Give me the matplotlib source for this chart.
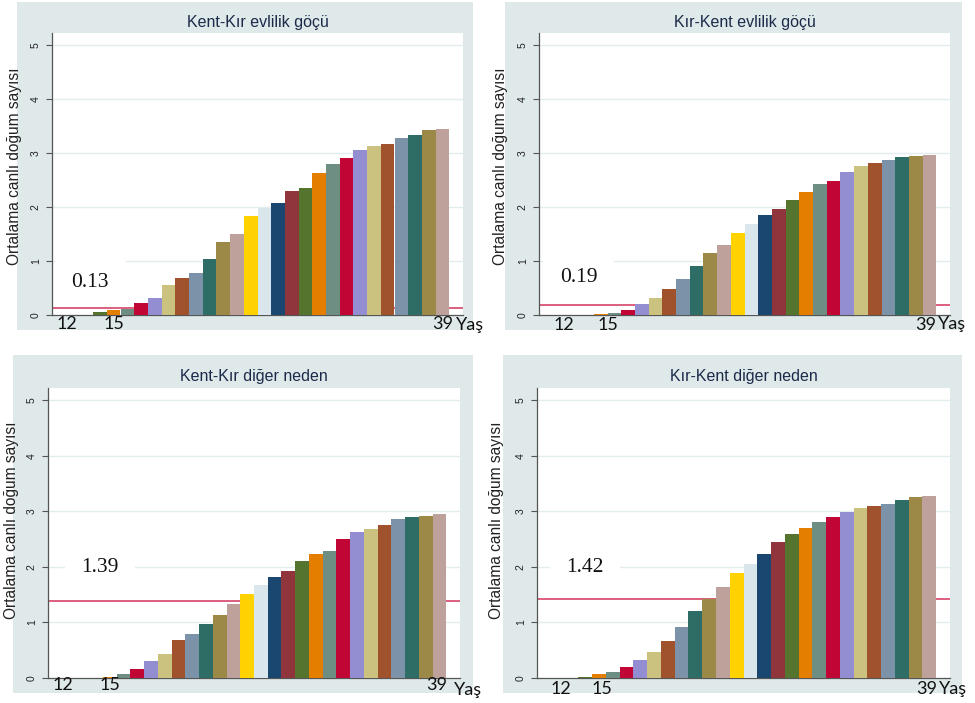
import matplotlib
matplotlib.use("Agg")
import matplotlib.pyplot as plt
from matplotlib.patches import Rectangle
from matplotlib.transforms import blended_transform_factory

# ---------------- data ----------------
ages = list(range(12, 40))
titles = ["Kent-Kır evlilik göçü", "Kır-Kent evlilik göçü",
          "Kent-Kır diğer neden", "Kır-Kent diğer neden"]
kent_kir_evlilik = [0, 0, 0.05, 0.10, 0.12, 0.22, 0.32, 0.56, 0.69, 0.77,
                    1.04, 1.36, 1.50, 1.83, 1.98, 2.07, 2.29, 2.36, 2.62, 2.79,
                    2.90, 3.05, 3.13, 3.16, 3.28, 3.33, 3.42, 3.44]
kir_kent_evlilik = [0, 0, 0, 0.02, 0.04, 0.10, 0.20, 0.32, 0.49, 0.66,
                    0.90, 1.15, 1.30, 1.51, 1.69, 1.85, 1.96, 2.13, 2.27, 2.42,
                    2.48, 2.65, 2.76, 2.81, 2.86, 2.93, 2.95, 2.96]
kent_kir_diger = [0, 0, 0, 0.01, 0.08, 0.17, 0.31, 0.44, 0.68, 0.79,
                  0.98, 1.13, 1.34, 1.51, 1.67, 1.81, 1.93, 2.11, 2.23, 2.29,
                  2.51, 2.62, 2.68, 2.76, 2.86, 2.90, 2.92, 2.96]
kir_kent_diger = [0, 0, 0.01, 0.07, 0.10, 0.20, 0.33, 0.46, 0.67, 0.92,
                  1.21, 1.42, 1.64, 1.89, 2.06, 2.24, 2.44, 2.60, 2.70, 2.80,
                  2.90, 2.98, 3.06, 3.10, 3.14, 3.21, 3.26, 3.28]
series = [kent_kir_evlilik, kir_kent_evlilik, kent_kir_diger, kir_kent_diger]
means = [0.13, 0.19, 1.39, 1.42]
mean_labels = ["0.13", "0.19", "1.39", "1.42"]
yticks = [0, 1, 2, 3, 4, 5]
age_labels = [12, 15, 39]
ylabel = "Ortalama canlı doğum sayısı"
xunit = "Yaş"

# Stata s2color palette
palette = ["#1a476f", "#90353b", "#55752f", "#e37e00", "#6e8e84",
           "#c10534", "#938dd2", "#cac27e", "#a0522d", "#7b92a8",
           "#2d6d66", "#9c8847", "#bfa19c", "#ffd200", "#d9e6eb"]

# ---------------- layout (pixels) ----------------
W, H = 975, 703
bg_boxes = [(17, 2, 473, 330), (505, 2, 962, 330),
            (13, 355, 473, 693), (503, 355, 962, 693)]
plot_boxes = [(52, 33, 463, 315), (539, 33, 950, 315),
              (48, 388, 460, 678), (537, 388, 950, 678)]
ylabel_pos = [(15, 166), (500, 166), (12, 520), (497, 520)]
ann_pos = [(13.3, 0.61), (13.4, 0.70), (14.3, 1.98), (14.0, 1.98)]
label_x_shift = [[-0.4, 0.0, 0.0], [0.3, 0.5, -0.3], [-0.4, 0.0, -0.2], [0.2, 0.2, -0.2]]
label_dy = [-9, -10, -7, -11]
unit_x = [41.0, 40.65, 41.1, 40.75]
unit_dy = [-10, -9, -12, -11]

BG = "#dfe9ea"
GRID = "#e3ecee"
AXC = "#555555"

fig = plt.figure(figsize=(W / 100, H / 100), dpi=100)
fig.patch.set_facecolor("white")


def frac(box):
    x0, y0, x1, y1 = box
    return [x0 / W, 1 - y1 / H, (x1 - x0) / W, (y1 - y0) / H]


for i in range(4):
    bx = bg_boxes[i]
    fig.patches.append(Rectangle((bx[0] / W, 1 - bx[3] / H),
                                 (bx[2] - bx[0]) / W, (bx[3] - bx[1]) / H,
                                 transform=fig.transFigure, facecolor=BG,
                                 edgecolor="none", zorder=-10))

for i in range(4):
    pb = plot_boxes[i]
    ax = fig.add_axes(frac(pb))
    ax.set_facecolor("white")
    vals = series[i]
    colors = [palette[k % len(palette)] for k in range(len(ages))]
    ax.bar(ages, vals, width=1.0, color=colors, linewidth=0, zorder=3)
    ax.axhline(means[i], color="#d6456a", lw=1.2, zorder=2)
    ax.set_xlim(10.5, 40.5)
    ax.set_ylim(0, 5.22)
    ax.set_yticks(yticks)
    ax.set_yticklabels([str(t) for t in yticks], rotation=90, va="center",
                       fontsize=7.5, family="Liberation Sans", color="#222222")
    for t in yticks[1:]:
        ax.axhline(t, color=GRID, lw=1.0, zorder=0.5)
    ax.set_xticks([])
    for s in ["top", "right"]:
        ax.spines[s].set_visible(False)
    for s in ["left", "bottom"]:
        ax.spines[s].set_color(AXC)
        ax.spines[s].set_linewidth(0.9)
    ax.tick_params(axis="y", length=4, width=0.8, color=AXC, pad=4)

    ph = pb[3] - pb[1]
    pw = pb[2] - pb[0]
    # title
    ax.text(0.5, 1 + 11 / ph, titles[i], transform=ax.transAxes,
            ha="center", va="center", fontsize=11.5,
            family="Liberation Sans", color="#1c2a4a")
    # y label
    lx, ly = ylabel_pos[i]
    ax.text((lx - pb[0]) / pw, (pb[3] - ly) / ph, ylabel,
            transform=ax.transAxes, rotation=90, ha="center", va="center",
            fontsize=11.2, family="Liberation Sans", color="#222222")
    # mean annotation
    ax.text(ann_pos[i][0], ann_pos[i][1], mean_labels[i], ha="center",
            va="center", fontsize=15.5, family="Liberation Serif",
            color="#111111", zorder=1,
            bbox=dict(facecolor="white", edgecolor="none", pad=12))
    # age labels under the axis
    tr = blended_transform_factory(ax.transData, ax.transAxes)
    for j, a in enumerate(age_labels):
        ax.text(a + label_x_shift[i][j], label_dy[i] / ph, str(a),
                transform=tr, ha="center", va="center",
                fontsize=13, family="Lato", color="#111111", clip_on=False)
    ax.text(unit_x[i], unit_dy[i] / ph, xunit, transform=tr, ha="center",
            va="center", fontsize=13, family="Lato", color="#111111",
            clip_on=False)

fig.savefig("out.png", dpi=100, facecolor="white")
